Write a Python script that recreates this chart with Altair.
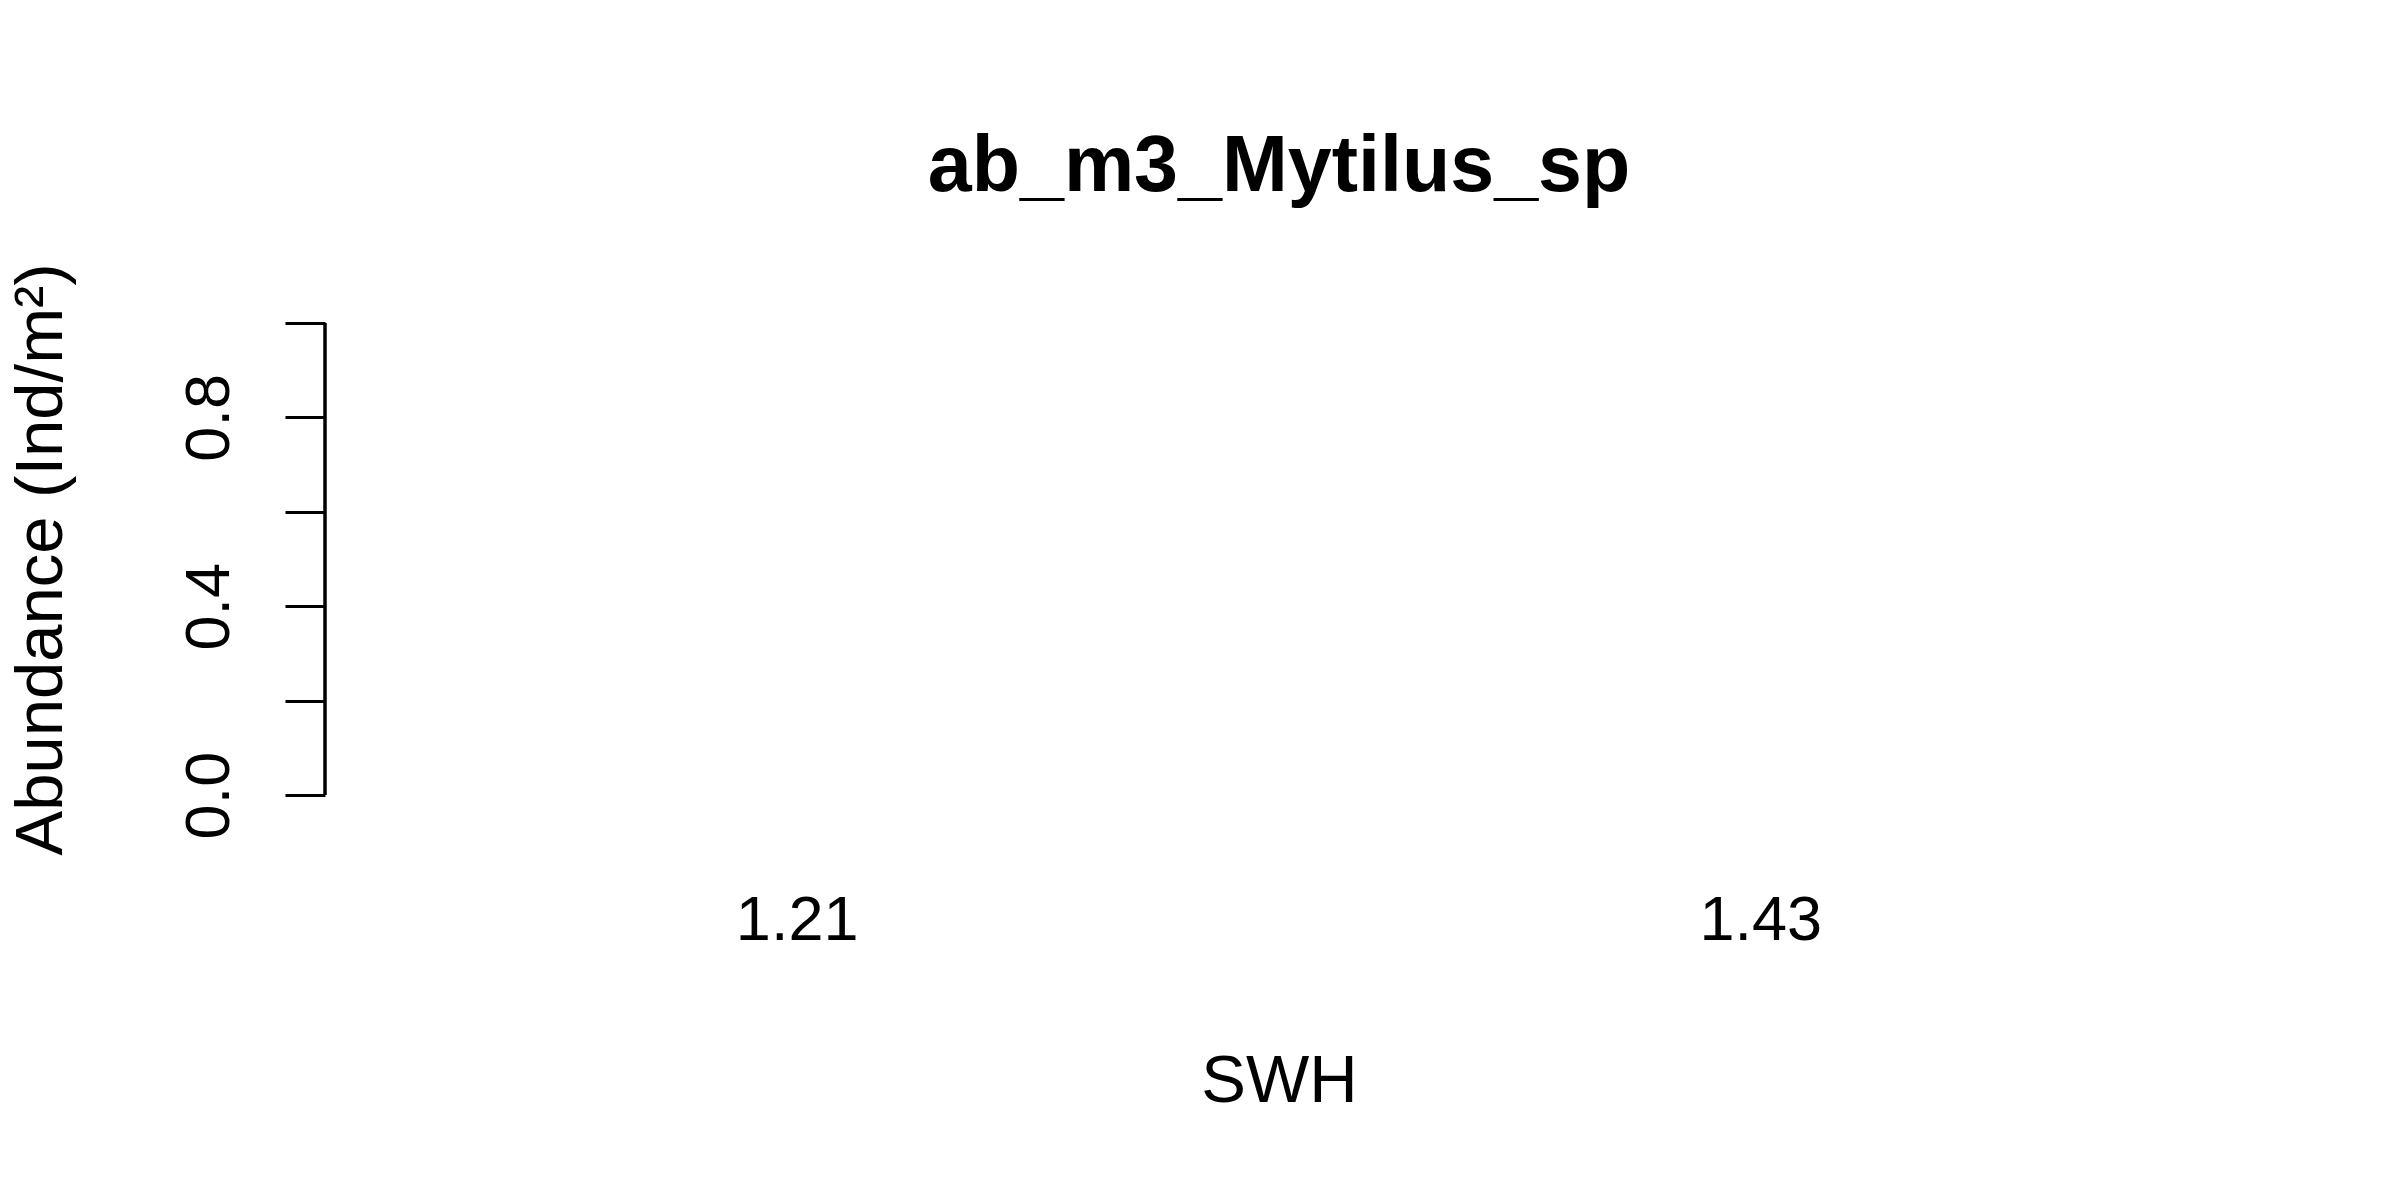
import altair as alt
import pandas as pd

# Data
categories = ["1.21", "1.43"]
abundance = [0.0, 0.0]
y_ticks = [0.0, 0.2, 0.4, 0.6, 0.8, 1.0]
y_labelled = [0.0, 0.4, 0.8]

df = pd.DataFrame({"SWH": categories, "Abundance": abundance})

FONT = "Liberation Sans"
W, H = 1908, 510

y_scale = alt.Scale(domain=[-0.04, 1.04], nice=False, zero=False)
label_test = " || ".join(f"abs(datum.value - {v}) < 1e-9" for v in y_labelled)

bars = alt.Chart(df).mark_bar(color="#bebebe", strokeWidth=0).encode(
    x=alt.X(
        "SWH:N",
        sort=categories,
        scale=alt.Scale(paddingInner=0.2 / 1.2, paddingOuter=0.0733),
        axis=alt.Axis(
            title="SWH",
            labelAngle=0,
            domain=False,
            ticks=False,
            tickSize=0,
            labelFont=FONT,
            labelFontSize=63,
            labelColor="black",
            labelBaseline="alphabetic",
            labelPadding=125,
            titleFont=FONT,
            titleFontSize=67,
            titleFontWeight="normal",
            titleColor="black",
            titleX=W / 2,
            titleY=287,
            titleAlign="center",
            titleBaseline="alphabetic",
        ),
    ),
    y=alt.Y(
        "Abundance:Q",
        scale=y_scale,
        axis=alt.Axis(
            title="Abundance (Ind/m²)",
            values=y_ticks,
            format=".1f",
            labelExpr=f"({label_test}) ? datum.label : ''",
            domain=False,
            grid=False,
            tickSize=40,
            tickWidth=3,
            tickColor="black",
            labelFont=FONT,
            labelFontSize=63,
            labelColor="black",
            labelAngle=270,
            labelAlign="center",
            labelBaseline="alphabetic",
            labelPadding=57,
            labelOverlap=False,
            titleFont=FONT,
            titleFontSize=67,
            titleFontWeight="normal",
            titleColor="black",
            titleAngle=270,
            titleAlign="center",
            titleBaseline="middle",
            titleX=-284,
            titleY=H / 2,
        ),
    ),
)

axis_line = alt.Chart(df).mark_rule(color="black", strokeWidth=3).encode(
    x=alt.value(0),
    y=alt.datum(min(y_ticks), scale=y_scale),
    y2=alt.datum(max(y_ticks)),
)

chart = (
    alt.layer(bars, axis_line)
    .properties(
        width=W,
        height=H,
        background="white",
        title=alt.TitleParams(
            "ab_m3_Mytilus_sp",
            font=FONT,
            fontSize=79,
            fontWeight="bold",
            color="black",
            anchor="middle",
            frame="group",
            baseline="alphabetic",
            offset=-7,
        ),
        padding={"left": 317, "top": 296, "right": 150, "bottom": 370},
        autosize=alt.AutoSizeParams(type="none"),
    )
    .configure_view(stroke="transparent", strokeWidth=0)
)

chart.save("out.html", embed_options={"renderer": "svg", "actions": False})
